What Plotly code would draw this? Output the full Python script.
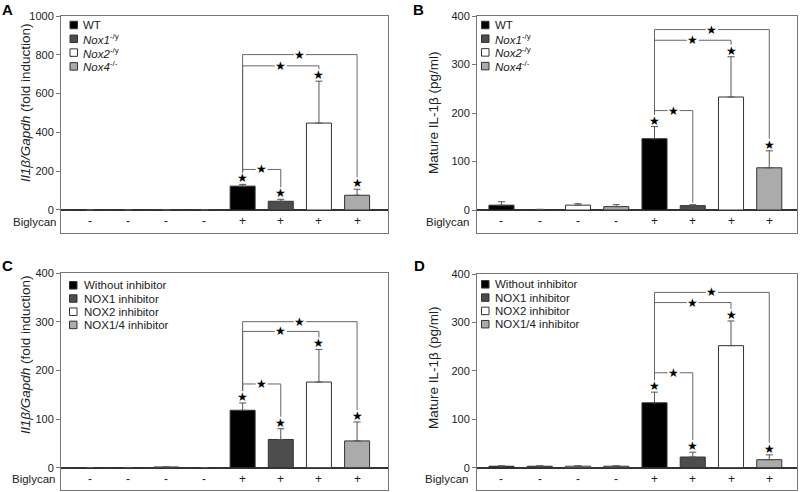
import plotly.graph_objects as go

# ---------------- data ----------------
biglycan = ["-", "-", "-", "-", "+", "+", "+", "+"]
legend_AB = ["WT", "<i>Nox1</i><sup>-/y</sup>", "<i>Nox2</i><sup>-/y</sup>", "<i>Nox4</i><sup>-/-</sup>"]
legend_CD = ["Without inhibitor", "NOX1 inhibitor", "NOX2 inhibitor", "NOX1/4 inhibitor"]

A_values = [1, 1, 1, 1, 123, 45, 448, 76]
A_errors = [0, 0, 0, 0, 9, 10, 216, 31]
A_stars = [0, 0, 0, 0, 1, 1, 1, 1]
A_brackets = [(4, 5, 209), (4, 6, 743), (4, 7, 801)]

B_values = [10, 1, 10, 7, 147, 9, 233, 87]
B_errors = [7, 0.5, 3, 4, 25, 2, 83, 35]
B_stars = [0, 0, 0, 0, 1, 0, 1, 1]
B_brackets = [(4, 5, 205), (4, 6, 350), (4, 7, 372)]

C_values = [0.3, 0.3, 1.5, 0.3, 118, 58, 176, 55]
C_errors = [0, 0, 0, 0, 15, 22, 67, 39]
C_stars = [0, 0, 0, 0, 1, 1, 1, 1]
C_brackets = [(4, 5, 172), (4, 6, 280), (4, 7, 300)]

D_values = [3, 3, 3, 3, 134, 22, 252, 16.5]
D_errors = [1, 1, 1, 1, 22, 10, 51, 10]
D_stars = [0, 0, 0, 0, 1, 1, 1, 1]
D_brackets = [(4, 5, 196), (4, 6, 341), (4, 7, 362)]

A_ticks = [0, 200, 400, 600, 800, 1000]
BCD_ticks = [0, 100, 200, 300, 400]

# ---------------- styles / layout ----------------
W, H = 800, 492
bar_colors = ["#000000", "#4d4d4d", "#ffffff", "#ababab"]
FONT = "Liberation Sans, Arial, sans-serif"
TXT = "#222222"
FRAME = "#777777"

panels = [
    dict(letter="A", values=A_values, errors=A_errors, stars=A_stars, brackets=A_brackets,
         ticks=A_ticks, yr=[-118.6, 1000], xr=[-0.76, 7.81], box=(61, 388, 16, 233),
         legend=legend_AB, leg=(70, 81, 25, 13.8), big=(58, 222), title="<i>Il1β/Gapdh</i> (fold induction)",
         tpos=(25, 103), lpos=(7.5, 9.5)),
    dict(letter="B", values=B_values, errors=B_errors, stars=B_stars, brackets=B_brackets,
         ticks=BCD_ticks, yr=[-47.4, 400], xr=[-0.64, 7.725], box=(477, 797, 16, 233),
         legend=legend_AB, leg=(481.5, 492.5, 25, 13.7), big=(470.5, 222), title="Mature IL-1β (pg/ml)",
         tpos=(433, 113), lpos=(418, 9.5)),
    dict(letter="C", values=C_values, errors=C_errors, stars=C_stars, brackets=C_brackets,
         ticks=BCD_ticks, yr=[-45.8, 400], xr=[-0.76, 7.81], box=(61, 388, 273, 490),
         legend=legend_CD, leg=(69.5, 82, 285.3, 13.2), big=(57.5, 479.3), title="<i>Il1β/Gapdh</i> (fold induction)",
         tpos=(25, 355), lpos=(7.5, 265)),
    dict(letter="D", values=D_values, errors=D_errors, stars=D_stars, brackets=D_brackets,
         ticks=BCD_ticks, yr=[-46.1, 400], xr=[-0.64, 7.725], box=(477, 797, 274, 490),
         legend=legend_CD, leg=(481.5, 493, 284.3, 13.3), big=(470, 479.3), title="Mature IL-1β (pg/ml)",
         tpos=(433, 368), lpos=(419, 265.5)),
]


def px(x):
    return x / W


def py(y):
    return 1 - y / H


fig = go.Figure()
annotations = []
shapes = []
STAR = dict(family="DejaVu Sans", size=12, color="#000")

for k, p in enumerate(panels):
    n = "" if k == 0 else str(k + 1)
    xa, ya = "x" + n, "y" + n
    left, right, top, bottom = p["box"]
    scale = (bottom - top) / (p["yr"][1] - p["yr"][0])  # px per y unit
    xscale = (right - left) / (p["xr"][1] - p["xr"][0])  # px per x unit
    vals, errs = p["values"], p["errors"]
    ngroups = len(bar_colors)

    for g in range(ngroups):
        idx = [i for i in range(len(vals)) if i % ngroups == g]
        fig.add_trace(go.Bar(
            x=idx, y=[vals[i] for i in idx], width=0.655,
            marker=dict(color=bar_colors[g], line=dict(color="#333333", width=1)),
            error_y=dict(type="data", symmetric=False, array=[errs[i] for i in idx],
                         arrayminus=[0] * len(idx), color="#555555", thickness=1, width=3.5),
            xaxis=xa, yaxis=ya, showlegend=False, hoverinfo="skip"))

    star_y = [vals[i] + errs[i] + 6 / scale for i in range(len(vals))]
    for i, s in enumerate(p["stars"]):
        if s:
            annotations.append(dict(x=i, y=star_y[i], xref=xa, yref=ya, text="★", showarrow=False,
                                    font=STAR, yanchor="middle"))

    def leg_bottom(i):
        if p["stars"][i]:
            return star_y[i] + 6 / scale
        return vals[i] + errs[i] + 2 / scale

    gap = 6 / xscale
    for (i, j, lvl) in p["brackets"]:
        m = (i + j) / 2
        fig.add_trace(go.Scatter(x=[i, i, m - gap, None, m + gap, j, j],
                                 y=[leg_bottom(i), lvl, lvl, None, lvl, lvl, leg_bottom(j)],
                                 mode="lines", line=dict(color="#666666", width=1),
                                 xaxis=xa, yaxis=ya, showlegend=False, hoverinfo="skip"))
        annotations.append(dict(x=m, y=lvl, xref=xa, yref=ya, text="★", showarrow=False,
                                font=STAR, yanchor="middle"))

    mid = p["yr"][0] / 2
    for i, t in enumerate(biglycan):
        annotations.append(dict(x=i, y=mid, xref=xa, yref=ya, text=t, showarrow=False,
                                font=dict(family=FONT, size=12, color=TXT)))
    annotations.append(dict(x=px(p["big"][0]), y=py(p["big"][1]), xref="paper", yref="paper",
                            text="Biglycan", showarrow=False, xanchor="right", yanchor="middle",
                            font=dict(family=FONT, size=11.5, color=TXT)))

    sx, tx, y0, dy = p["leg"]
    for g, lab in enumerate(p["legend"]):
        yc = y0 + g * dy
        shapes.append(dict(type="rect", xref="paper", yref="paper", x0=px(sx), x1=px(sx + 7.5),
                           y0=py(yc - 3.75), y1=py(yc + 3.75), fillcolor=bar_colors[g],
                           line=dict(color="#333333", width=1)))
        annotations.append(dict(x=px(tx), y=py(yc), xref="paper", yref="paper", text=lab,
                                showarrow=False, xanchor="left", yanchor="middle",
                                font=dict(family=FONT, size=11.5, color=TXT)))

    annotations.append(dict(x=px(p["tpos"][0]), y=py(p["tpos"][1]), xref="paper", yref="paper",
                            text=p["title"], textangle=-90, showarrow=False,
                            xanchor="center", yanchor="middle",
                            font=dict(family=FONT, size=13.5, color=TXT)))
    annotations.append(dict(x=px(p["lpos"][0]), y=py(p["lpos"][1]), xref="paper", yref="paper",
                            text="<b>%s</b>" % p["letter"], showarrow=False,
                            xanchor="center", yanchor="middle",
                            font=dict(family=FONT, size=15, color="#000")))

    fig.update_layout(**{
        "xaxis" + n: dict(domain=[px(left), px(right)], range=p["xr"], anchor=ya,
                          showline=True, mirror=True, linecolor=FRAME, linewidth=1,
                          showticklabels=False, ticks="", showgrid=False, zeroline=False,
                          fixedrange=True, automargin=False),
        "yaxis" + n: dict(domain=[py(bottom), py(top)], range=p["yr"], anchor=xa,
                          showline=True, mirror=True, linecolor=FRAME, linewidth=1,
                          tickvals=p["ticks"], ticks="outside", ticklen=4, tickcolor=FRAME,
                          tickfont=dict(family=FONT, size=11, color=TXT),
                          showgrid=False, zeroline=True, zerolinecolor="#333333", zerolinewidth=1.5,
                          fixedrange=True, automargin=False),
    })

fig.update_layout(width=W, height=H, margin=dict(l=0, r=0, t=0, b=0, autoexpand=False),
                  paper_bgcolor="white", plot_bgcolor="white", barmode="overlay",
                  annotations=annotations, shapes=shapes, showlegend=False,
                  font=dict(family=FONT, color=TXT))

fig.write_html("out.html", config={"displayModeBar": False},
               post_script="document.body.style.margin='0';document.body.style.overflow='hidden';")
